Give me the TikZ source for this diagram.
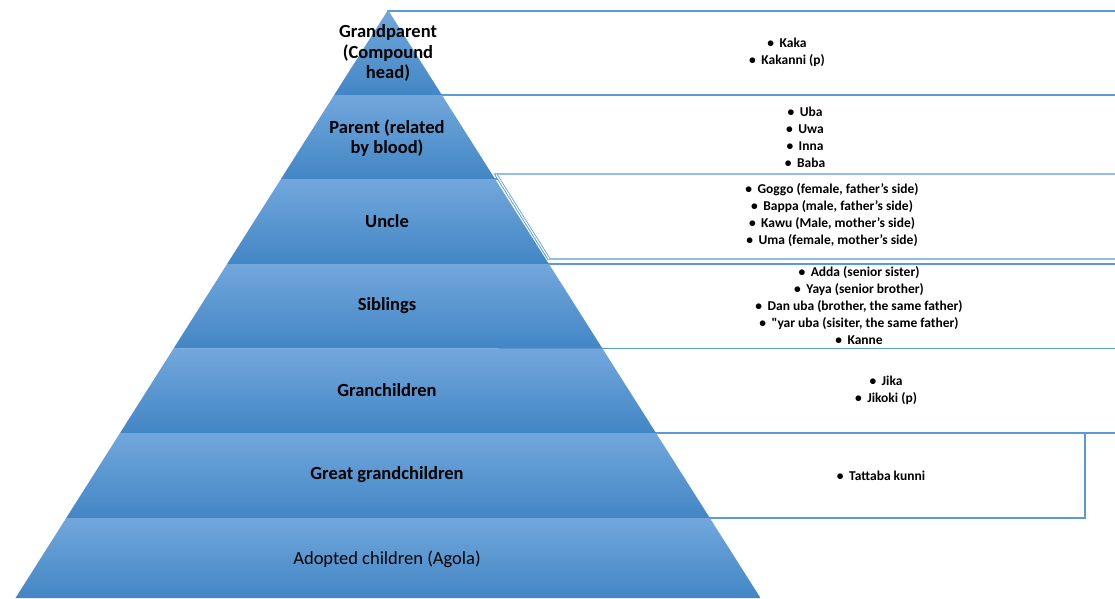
\documentclass[tikz,border=0pt]{standalone}
\usepackage{fontspec}
\setmainfont{Carlito}
\newfontfamily\rawfont{Carlito}
\definecolor{boxblue}{RGB}{91,155,213}
\definecolor{ptop}{RGB}{114,167,220}
\definecolor{pmid}{RGB}{88,154,215}
\definecolor{pbot}{RGB}{66,134,197}
\newcommand\itm{\textbullet\hspace{5.5pt}}
\begin{document}
\begin{tikzpicture}[x=1pt,y=-1pt,
  listbox/.style={draw=boxblue, line width=1.3pt, fill=white},
  band/.style={top color=ptop, middle color=pmid, bottom color=pbot},
  lvl/.style={font=\fontsize{18.5}{20.5}\selectfont\bfseries, align=center, text=black, inner sep=0pt},
  items/.style={font=\fontsize{13.5}{17}\selectfont\bfseries, align=center, text=black, inner sep=0pt}]
\useasboundingbox (0,0) rectangle (1115,598);
% list boxes (behind the pyramid)
\draw[listbox] (388,11) rectangle (1130,95);
\draw[listbox] (400,95) rectangle (1130,179);
\draw[listbox] (1130,174) -- (495,174) -- (548,259) -- (1130,259);
\draw[draw=boxblue, line width=0.8pt, double=white, double distance=1.2pt] (496,174.5) -- (549,259);
\draw[listbox] (500,264) rectangle (1130,348.5);
\draw[listbox] (560,348.5) rectangle (1130,433);
\draw[listbox] (600,433) rectangle (1085,518);
% pyramid bands
\foreach \ya/\yb in {10/95, 95/179, 179/264, 264/348.5, 348.5/433, 433/518, 518/598}{
  \pgfmathsetmacro\hta{(\ya-10)*0.6335}
  \pgfmathsetmacro\htb{(\yb-10)*0.6335}
  \pgfmathsetmacro\xa{388-\hta}
  \pgfmathsetmacro\xb{388+\hta}
  \pgfmathsetmacro\xc{388+\htb}
  \pgfmathsetmacro\xd{388-\htb}
  \shade[band] (\xa,\ya) -- (\xb,\ya) -- (\xc,\yb) -- (\xd,\yb) -- cycle;
}
% level labels
\node[lvl] (l1) at (388,53) {Grandparent\\(Compound\\head)};
\node[lvl] (l2) at (387,138) {Parent (related\\by blood)};
\node[lvl] (l3) at (387,221) {Uncle};
\node[lvl] (l4) at (387,306) {Siblings};
\node[lvl] (l5) at (387,390) {Granchildren};
\node[lvl] (l6) at (387,475) {Great grandchildren};
\node[lvl, font=\fontsize{18.5}{20.5}\selectfont] (l7) at (387,559) {Adopted children (Agola)};
% item lists
\node[items] (i1) at (787,52.5) {\itm Kaka\\\itm Kakanni (p)};
\node[items] (i2) at (805,137) {\itm Uba\\\itm Uwa\\\itm Inna\\\itm Baba};
\node[items] (i3) at (832,215) {\itm Goggo (female, father's side)\\\itm Bappa (male, father's side)\\\itm Kawu (Male, mother's side)\\\itm Uma (female, mother's side)};
\node[items] (i4) at (859,306) {\itm Adda (senior sister)\\\itm Yaya (senior brother)\\\itm Dan uba (brother, the same father)\\\itm {\rawfont "}yar uba (sisiter, the same father)\\\itm Kanne};
\node[items] (i5) at (886,390) {\itm Jika\\\itm Jikoki (p)};
\node[items] (i6) at (881,476) {\itm Tattaba kunni};
\end{tikzpicture}
\end{document}
